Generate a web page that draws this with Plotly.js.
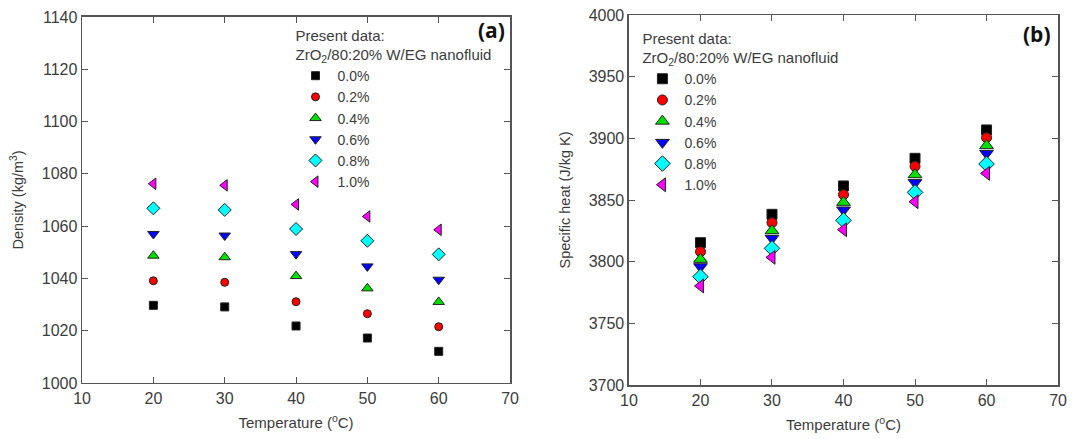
<!DOCTYPE html>
<html>
<head>
<meta charset="utf-8">
<script src="https://cdn.plot.ly/plotly-3.0.1.min.js"></script>
<style>html,body{margin:0;padding:0;background:#fff;}#chart{width:1091px;height:439px;}</style>
</head>
<body>
<div id="chart"></div>
<script>
// Data
const temperature = [20, 30, 40, 50, 60];
const seriesNames = ['0.0%', '0.2%', '0.4%', '0.6%', '0.8%', '1.0%'];
const density_00 = [1029.7, 1029.1, 1021.8, 1017.2, 1012.1];
const density_02 = [1039.1, 1038.5, 1031.1, 1026.5, 1021.5];
const density_04 = [1048.7, 1048.1, 1040.9, 1036.2, 1031.0];
const density_06 = [1057.0, 1056.4, 1049.3, 1044.6, 1039.5];
const density_08 = [1066.8, 1066.2, 1058.9, 1054.4, 1049.2];
const density_10 = [1076.2, 1075.6, 1068.3, 1063.7, 1058.6];
const cp_00 = [3815.4, 3838.4, 3861.4, 3883.8, 3906.8];
const cp_02 = [3808.1, 3831.6, 3854.3, 3877.3, 3900.5];
const cp_04 = [3801.9, 3825.1, 3848.1, 3870.5, 3894.1];
const cp_06 = [3795.9, 3818.9, 3841.9, 3864.1, 3887.8];
const cp_08 = [3787.8, 3810.8, 3833.5, 3856.2, 3879.2];
const cp_10 = [3780.3, 3803.5, 3825.9, 3848.6, 3871.6];
const xTicks = [10, 20, 30, 40, 50, 60, 70];
const densityTicks = [1000, 1020, 1040, 1060, 1080, 1100, 1120, 1140];
const cpTicks = [3700, 3750, 3800, 3850, 3900, 3950, 4000];

const densitySeries = [density_00, density_02, density_04, density_06, density_08, density_10];
const cpSeries = [cp_00, cp_02, cp_04, cp_06, cp_08, cp_10];
const symbols = ['square', 'circle', 'triangle-up', 'triangle-down', 'diamond', 'triangle-left'];
const colors = ['#000000', '#ff0000', '#00e000', '#0000ff', '#00ffff', '#ff00ff'];
const sizesA = [8, 8, 10, 10, 10, 10];
const sizesB = [10, 10, 12, 12, 12, 12];

const FONT = 'Liberation Sans, Arial, sans-serif';
const TXT = '#3c3c3c';

const traces = [];
densitySeries.forEach((ys, i) => {
  traces.push({
    x: temperature, y: ys, xaxis: 'x', yaxis: 'y', type: 'scatter', mode: 'markers',
    name: seriesNames[i], legend: 'legend',
    marker: {symbol: symbols[i], size: sizesA[i], color: colors[i], line: {color: '#222', width: 1}}
  });
});
cpSeries.forEach((ys, i) => {
  traces.push({
    x: temperature, y: ys, xaxis: 'x2', yaxis: 'y2', type: 'scatter', mode: 'markers',
    name: seriesNames[i], legend: 'legend2',
    marker: {symbol: symbols[i], size: sizesB[i], color: colors[i], line: {color: '#222', width: 1}}
  });
});

function xax(domain, anchor) {
  return {
    domain: domain, anchor: anchor, range: [10, 70], tickvals: xTicks,
    ticks: 'inside', ticklen: 6, tickcolor: '#555', mirror: 'allticks',
    showline: true, linecolor: '#555', linewidth: 1.5, showgrid: false, zeroline: false,
    tickfont: {family: FONT, size: 16, color: TXT},
    title: {text: 'Temperature (<sup>o</sup>C)', font: {family: FONT, size: 15, color: TXT}, standoff: 12},
    automargin: false
  };
}
function yax(domain, anchor, range, ticks, title) {
  return {
    domain: domain, anchor: anchor, range: range, tickvals: ticks,
    ticks: 'inside', ticklen: 6, tickcolor: '#555', mirror: 'allticks',
    showline: true, linecolor: '#555', linewidth: 1.5, showgrid: false, zeroline: false,
    tickfont: {family: FONT, size: 16, color: TXT},
    title: {text: title, font: {family: FONT, size: 14.5, color: TXT}, standoff: 14},
    automargin: false
  };
}
const legendTitle = 'Present data:<br>ZrO<sub>2</sub>/80:20% W/EG nanofluid';
function leg(x, y) {
  return {
    x: x, y: y, xanchor: 'left', yanchor: 'top', bgcolor: 'rgba(0,0,0,0)',
    font: {family: FONT, size: 14, color: TXT}, tracegroupgap: 0,
    title: {text: legendTitle, font: {family: FONT, size: 15, color: TXT}},
    itemwidth: 34
  };
}

const layout = {
  width: 1091, height: 439,
  margin: {l: 0, r: 0, t: 0, b: 0},
  paper_bgcolor: '#fff', plot_bgcolor: '#fff',
  showlegend: true,
  xaxis: xax([0.0752, 0.4675], 'y'),
  yaxis: yax([0.1276, 0.9613], 'x', [1000, 1140], densityTicks, 'Density (kg/m<sup>3</sup>)'),
  xaxis2: xax([0.5765, 0.9698], 'y2'),
  yaxis2: yax([0.123, 0.9658], 'x2', [3700, 4000], cpTicks, 'Specific heat (J/kg K)'),
  legend: leg(0.269, 0.952),
  legend2: leg(0.587, 0.945),
  annotations: [
    {text: '<b>(a)</b>', xref: 'paper', yref: 'paper', x: 0.465, y: 0.968, xanchor: 'right', yanchor: 'top',
     showarrow: false, font: {family: 'Open Sans, Liberation Sans, sans-serif', size: 21, color: '#111'}},
    {text: '<b>(b)</b>', xref: 'paper', yref: 'paper', x: 0.965, y: 0.958, xanchor: 'right', yanchor: 'top',
     showarrow: false, font: {family: 'Open Sans, Liberation Sans, sans-serif', size: 21, color: '#111'}}
  ]
};

Plotly.newPlot('chart', traces, layout, {displayModeBar: false, staticPlot: true});
</script>
</body>
</html>
